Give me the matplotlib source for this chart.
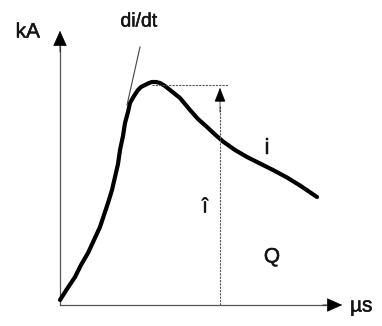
import matplotlib
matplotlib.use("Agg")
import matplotlib.pyplot as plt
import matplotlib.patheffects as pe

# Schematic lightning current impulse (arbitrary units: µs, kA)
time_us = [0.0, 0.7, 1.5, 2.1, 2.8, 3.4, 4.0, 4.4, 4.8, 5.2, 5.5, 5.8, 6.0, 6.3, 6.5, 6.8,
           7.0, 7.4, 7.8, 8.1, 8.5, 8.9, 9.2, 9.6, 10.0, 10.5, 11.0, 11.5, 12.0, 12.5, 13.0,
           13.8, 14.7, 15.5, 16.3, 17.5, 18.7, 20.0, 21.3, 22.7, 24.0, 25.7]
current_kA = [0.5, 1.6, 2.8, 4.0, 5.2, 6.5, 7.8, 9.0, 10.2, 11.5, 12.8, 14.1, 15.5, 16.9, 18.2, 19.3,
              20.2, 20.9, 21.5, 21.8, 22.0, 22.2, 22.3, 22.3, 22.2, 21.9, 21.5, 21.1, 20.7, 20.1, 19.5,
              18.6, 17.8, 17.05, 16.35, 15.5, 14.8, 14.15, 13.5, 12.75, 11.95, 10.8]
peak_i = 22.0
peak_t = 9.2
arrow_t = 16.0

fig = plt.figure(figsize=(3.82, 3.26), dpi=100)
ax = fig.add_axes([0, 0, 1, 1])
ax.set_xlim(-6.0, 32.2)
ax.set_ylim(-2.1, 30.5)
ax.axis("off")

fam = ["Liberation Sans", "DejaVu Sans"]
axcol = "#555555"
tcol = "#151515"
peff = [pe.withStroke(linewidth=0.35, foreground=tcol)]

# axes with arrows
ax.plot([0, 0], [0, 26.0], color=axcol, lw=0.9)
ax.plot([0, 27.0], [0, 0], color=axcol, lw=0.9)
ax.annotate("", xy=(0, 27.7), xytext=(0, 25.0),
            arrowprops=dict(arrowstyle="-|>,head_length=1.0,head_width=0.45", color="black", lw=0.5))
ax.annotate("", xy=(28.5, 0), xytext=(26.0, 0),
            arrowprops=dict(arrowstyle="-|>,head_length=1.0,head_width=0.45", color="black", lw=0.5))

# curve
ax.plot(time_us, current_kA, color="black", lw=3.0, solid_capstyle="round", solid_joinstyle="round")

# peak dashed line and peak arrow
ax.plot([peak_t, arrow_t + 0.8], [peak_i, peak_i], color=axcol, lw=0.8, ls=(0, (2, 1)))
ax.plot([arrow_t, arrow_t], [0, 20.0], color=axcol, lw=0.8, ls=(0, (2, 1)))
ax.annotate("", xy=(arrow_t, peak_i), xytext=(arrow_t, 19.0),
            arrowprops=dict(arrowstyle="-|>,head_length=0.9,head_width=0.35", color="black", lw=0.5))

# tangent di/dt
ax.plot([6.7, 8.0], [20.0, 25.8], color="#444444", lw=0.8)

ax.text(-2.0, 27.3, "kA", fontsize=15, family=fam, ha="right", va="center", color=tcol, path_effects=peff)
ax.text(7.9, 28.3, "di/dt", fontsize=14, family=fam, ha="center", va="center", color=tcol, path_effects=peff)
ax.text(20.7, 15.7, "i", fontsize=15, family=fam, ha="center", va="center", color=tcol, path_effects=peff)
ax.text(14.5, 9.8, "î", fontsize=15, family=fam, ha="center", va="center", color=tcol, path_effects=peff)
ax.text(21.2, 4.8, "Q", fontsize=15, family=fam, ha="center", va="center", color=tcol, path_effects=peff)
ax.text(29.0, -0.1, "µs", fontsize=15, family=fam, ha="left", va="center", color=tcol, path_effects=peff)

fig.savefig("out.png", dpi=100)
